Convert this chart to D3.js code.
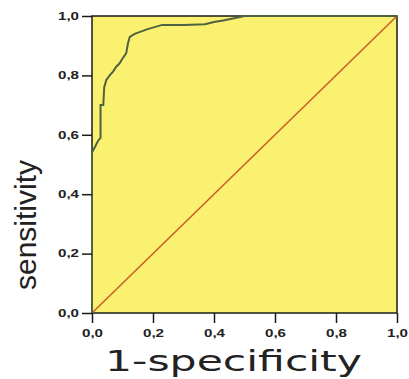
<!DOCTYPE html>
<html><head><meta charset="utf-8">
<script src="https://cdn.jsdelivr.net/npm/d3@7"></script>
<style>html,body{margin:0;padding:0;background:#fff;}svg{display:block;}</style>
</head><body>
<script>
const fpr = [0, 0, 0.01, 0.02, 0.028, 0.028, 0.037, 0.04, 0.047, 0.058, 0.069, 0.08, 0.09, 0.10, 0.112, 0.118, 0.124, 0.14, 0.18, 0.23, 0.30, 0.37, 0.40, 0.43, 0.47, 0.50, 1.0];
const tpr = [0, 0.54, 0.56, 0.58, 0.59, 0.70, 0.70, 0.76, 0.785, 0.80, 0.813, 0.83, 0.84, 0.857, 0.874, 0.908, 0.93, 0.94, 0.955, 0.97, 0.97, 0.972, 0.98, 0.985, 0.993, 1.0, 1.0];
const refX = [0, 1];
const refY = [0, 1];
const tickValues = [0, 0.2, 0.4, 0.6, 0.8, 1.0];
const tickLabels = ["0,0", "0,2", "0,4", "0,6", "0,8", "1,0"];
const xTitle = "1-specificity";
const yTitle = "sensitivity";

const W = 409, H = 379;
const m = {left: 92, right: 12, top: 16, bottom: 66};
const svg = d3.select("body").append("svg").attr("width", W).attr("height", H);
const x = d3.scaleLinear().domain([0, 1]).range([m.left, W - m.right]);
const y = d3.scaleLinear().domain([0, 1]).range([H - m.bottom, m.top]);

svg.append("rect").attr("x", x(0)).attr("y", y(1))
  .attr("width", x(1) - x(0)).attr("height", y(0) - y(1)).attr("fill", "#faf170");

// frame
svg.append("rect").attr("x", x(0)).attr("y", y(1))
  .attr("width", x(1) - x(0)).attr("height", y(0) - y(1))
  .attr("fill", "none").attr("stroke", "#1a1a1a").attr("stroke-width", 1.5);

// reference diagonal
svg.append("path").datum(refX.map((v, i) => [v, refY[i]]))
  .attr("d", d3.line().x(d => x(d[0])).y(d => y(d[1])))
  .attr("fill", "none").attr("stroke", "#cc5f28").attr("stroke-width", 1.6);

// ROC curve
svg.append("path").datum(fpr.map((v, i) => [v, tpr[i]]))
  .attr("d", d3.line().x(d => x(d[0])).y(d => y(d[1])))
  .attr("fill", "none").attr("stroke", "#4f6242").attr("stroke-width", 2);

const fmt = d => tickLabels[tickValues.indexOf(d)];
const xa = svg.append("g").attr("transform", `translate(0,${y(0)})`)
  .call(d3.axisBottom(x).tickValues(tickValues).tickFormat(fmt).tickSize(10).tickSizeOuter(0));
const ya = svg.append("g").attr("transform", `translate(${x(0)},0)`)
  .call(d3.axisLeft(y).tickValues(tickValues).tickFormat(fmt).tickSize(10).tickSizeOuter(0));
[xa, ya].forEach(a => {
  a.select(".domain").remove();
  a.selectAll(".tick line").attr("stroke", "#1a1a1a").attr("stroke-width", 1.5);
  a.selectAll(".tick text").attr("fill", "#222").attr("font-family", "Liberation Sans, Arial, sans-serif")
    .attr("font-weight", "bold").attr("font-size", 10.5)
    .attr("textLength", 21).attr("lengthAdjust", "spacingAndGlyphs");
});
xa.selectAll(".tick text").attr("dy", "0.71em").attr("y", 17);
ya.selectAll(".tick text").attr("x", -13);

svg.append("text").text(xTitle)
  .attr("x", 105).attr("y", 371)
  .attr("font-family", "DejaVu Sans, sans-serif").attr("font-size", 28)
  .attr("fill", "#222")
  .attr("textLength", 257).attr("lengthAdjust", "spacingAndGlyphs");

svg.append("text").text(yTitle)
  .attr("transform", "translate(36,290) rotate(-90)")
  .attr("font-family", "Liberation Sans, Arial, sans-serif").attr("font-size", 29)
  .attr("fill", "#222")
  .attr("textLength", 130).attr("lengthAdjust", "spacingAndGlyphs");
</script>
</body></html>
